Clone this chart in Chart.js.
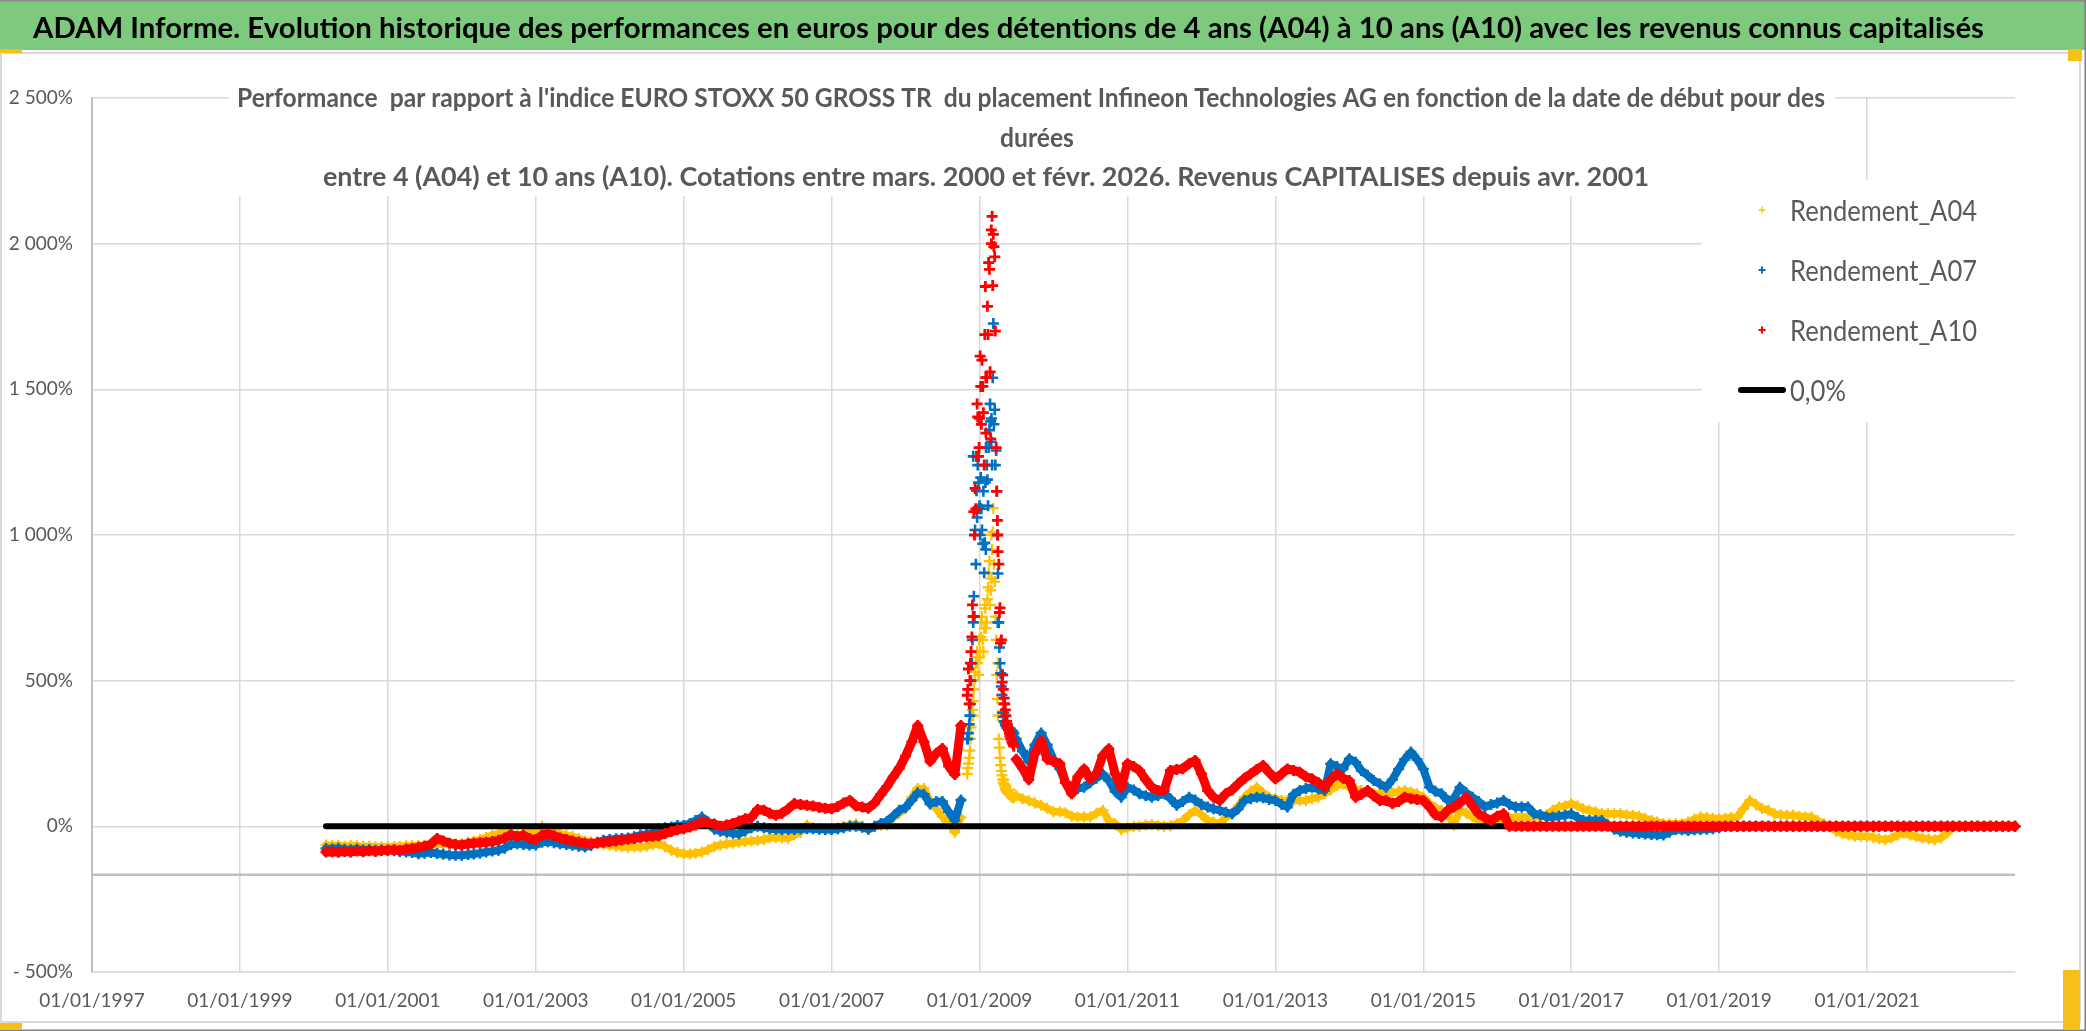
<!DOCTYPE html>
<html><head><meta charset="utf-8">
<script src="https://cdn.jsdelivr.net/npm/chart.js@4.4.1/dist/chart.umd.min.js"></script>
<style>html,body{margin:0;padding:0;background:#fff;overflow:hidden}canvas{display:block}</style>
</head><body>
<canvas id="c" width="2086" height="1031"></canvas>
<script>
// ---------------- DATA ----------------
const titleText = "ADAM Informe. Evolution historique des performances en euros pour des détentions de 4 ans (A04) à 10 ans (A10) avec les revenus connus capitalisés";
const subtitleLines = [
  "Performance  par rapport à l'indice EURO STOXX 50 GROSS TR  du placement Infineon Technologies AG en fonction de la date de début pour des",
  "durées",
  "entre 4 (A04) et 10 ans (A10). Cotations entre mars. 2000 et févr. 2026. Revenus CAPITALISES depuis avr. 2001"
];
const seriesLabels = ["Rendement_A04", "Rendement_A07", "Rendement_A10", "0,0%"];
const xTickYears = [1997, 1999, 2001, 2003, 2005, 2007, 2009, 2011, 2013, 2015, 2017, 2019, 2021];
const yTickValues = [-500, 0, 500, 1000, 1500, 2000, 2500];
const yTickLabels = ["- 500%", "0%", "500%", "1 000%", "1 500%", "2 000%", "2 500%"];

// monthly start dates: March 2000 .. January 2023
const firstMonth = [2000, 3], lastMonth = [2023, 1];

// Rendement_A04 (%), one value per month from 2000-03
const a04 = [
  -64,-66,-65,-68,-66,-67,-69,-68,-70,-70,
  -70,-69,-68,-67,-66,-66,-65,-64,-62,-61,-60,-60,
  -60,-55,-50,-45,-38,-30,-25,-8,-28,-30,-25,-20,
  -10,0,-10,-18,-25,-30,-35,-42,-50,-53,-58,-62,
  -65,-68,-70,-72,-71,-71,-68,-62,-60,-70,-82,-90,
  -94,-95,-92,-88,-80,-70,-64,-60,-58,-55,-52,-50,
  -49,-45,-40,-38,-40,-41,-30,-20,5,-5,-8,-11,
  -11,-5,0,5,8,0,-10,0,3,5,30,45,
  60,100,130,130,85,60,33,10,-20,30,180,380,
  580,700,850,560,160,125,105,95,88,80,72,62,
  50,50,47,35,32,32,32,45,55,20,9,-11,
  -5,0,0,5,6,3,0,2,9,20,40,55,
  40,20,15,9,30,43,70,100,120,134,115,100,
  95,89,89,89,89,89,95,100,112,125,140,146,
  134,128,123,118,112,112,112,115,120,123,118,112,
  100,78,65,55,40,5,55,45,32,20,9,15,
  20,20,28,32,32,32,32,32,40,55,66,70,
  78,70,60,55,50,43,43,43,43,40,38,35,
  28,20,15,9,9,9,9,15,25,32,30,28,
  26,28,30,32,60,89,75,61,55,43,40,38,
  38,35,32,32,20,9,0,-17,-25,-30,-34,-34,
  -34,-38,-42,-46,-40,-30,-23,-30,-35,-40,-43,-46,
  -40,-23,0,0,0,0,0,0,0,0,0,0,
  0
];
// Rendement_A07 (%)
const a07 = [
  -76,-78,-75,-79,-80,-78,-81,-80,-82,-81,
  -82,-84,-86,-88,-90,-94,-92,-90,-93,-96,-98,-99,
  -99,-97,-95,-92,-88,-85,-82,-75,-62,-60,-62,-64,
  -64,-55,-53,-56,-60,-62,-65,-68,-71,-66,-55,-48,
  -45,-43,-42,-40,-36,-30,-28,-22,-8,-5,-2,3,
  3,10,20,32,15,-10,-17,-20,-24,-26,-15,-5,
  0,-5,-8,-10,-12,-11,-11,-9,-8,-8,-10,-11,
  -11,-8,-5,0,0,-3,-10,0,10,17,35,55,
  65,90,115,110,77,85,85,50,20,90,300,700,
  1100,950,1400,700,390,335,300,258,223,280,320,280,
  230,197,150,134,130,134,150,165,180,157,120,100,
  134,125,112,105,100,105,112,95,72,85,100,90,
  75,66,60,55,48,43,60,89,95,100,98,92,
  89,75,66,110,123,130,134,128,123,215,205,197,
  232,220,192,175,157,145,134,160,197,230,255,230,
  197,134,120,112,89,95,134,115,100,85,66,75,
  80,89,75,66,66,66,43,40,32,32,35,38,
  43,30,20,20,20,20,5,-10,-17,-20,-23,-25,
  -26,-28,-29,-30,-20,-11,-12,-14,-12,-11,-10,-8,
  -5,0,0,0,0,0,0,0,0,0,0,0,
  0,0,0,0,0,0,0,0,0,0,0,0,
  0,0,0,0,0,0,0,0,0,0,0,0,
  0,0,0,0,0,0,0,0,0,0,0,0,
  0
];
// Rendement_A10 (%)
const a10 = [
  -88,-87,-89,-86,-88,-85,-87,-84,-86,-83,
  -82,-80,-83,-78,-76,-72,-68,-62,-42,-50,-58,-62,
  -64,-60,-58,-56,-55,-52,-48,-40,-28,-35,-30,-42,
  -45,-30,-26,-32,-40,-45,-50,-54,-58,-60,-57,-55,
  -52,-50,-47,-44,-42,-38,-36,-34,-32,-25,-18,-12,
  -8,-2,5,15,12,8,0,5,10,18,26,30,
  58,55,45,38,45,60,78,75,72,70,65,62,
  60,68,80,89,70,66,62,80,110,137,170,200,
  241,290,346,290,223,250,267,207,178,346,450,720,
  1400,1540,2000,1000,420,320,230,200,160,250,292,230,
  223,215,150,112,170,197,163,180,243,266,180,134,
  215,205,192,160,134,123,123,192,195,198,215,226,
  180,123,100,89,112,125,146,165,180,195,209,185,
  163,180,197,192,186,170,163,150,134,160,180,165,
  157,100,110,123,105,89,89,78,85,100,95,92,
  89,66,40,32,55,66,80,100,70,43,30,20,
  35,43,0,0,0,0,0,0,0,0,0,0,
  0,0,0,0,0,0,0,0,0,0,0,0,
  0,0,0,0,0,0,0,0,0,0,0,0,
  0,0,0,0,0,0,0,0,0,0,0,0,
  0,0,0,0,0,0,0,0,0,0,0,0,
  0,0,0,0,0,0,0,0,0,0,0,0,
  0,0,0,0,0,0,0,0,0,0,0,0,
  0
];

// denser readings around the 2008-2009 spike (two interleaved sets)
const peakDates = ['2008-11-04','2008-11-11','2008-11-17','2008-11-24','2008-12-01','2008-12-07','2008-12-14','2008-12-20','2008-12-27',
  '2009-01-04','2009-01-10','2009-01-17','2009-01-24','2009-01-30','2009-02-06','2009-02-12','2009-02-19','2009-02-25',
  '2009-03-04','2009-03-10','2009-03-17','2009-03-24','2009-03-30','2009-04-06','2009-04-12','2009-04-19','2009-04-25',
  '2009-05-02','2009-05-08','2009-05-15','2009-05-21','2009-05-28','2009-06-04','2009-06-10','2009-06-17'];
const a04Peak = [200,235,300,380,430,500,560,600,520,600,700,640,680,748,700,820,910,810,950,1092,840,640,437,300,235,190,160,145,130,120,115,110,105,100,100];
const a07Peak = [300,350,420,560,1270,720,900,1060,1180,1000,1090,970,870,1180,1240,1100,1360,1390,1240,1726,1430,1290,1000,700,560,480,390,360,350,340,335,330,330,325,320];
const a10Peak = [470,420,560,650,720,1000,1090,1450,1270,1614,1380,1510,1240,1853,1540,1688,1912,1330,2094,2032,1955,1300,1050,900,750,640,520,440,400,360,340,320,300,290,280];

const peakDatesB = ['2008-11-07','2008-11-14','2008-11-20','2008-11-27','2008-12-04','2008-12-10','2008-12-17','2008-12-23','2008-12-30',
  '2009-01-07','2009-01-13','2009-01-20','2009-01-27','2009-02-02','2009-02-09','2009-02-15','2009-02-22','2009-02-28',
  '2009-03-07','2009-03-13','2009-03-20','2009-03-27','2009-04-02','2009-04-09','2009-04-15','2009-04-22','2009-04-28',
  '2009-05-05','2009-05-11','2009-05-18','2009-05-24','2009-05-31','2009-06-07','2009-06-13','2009-06-19'];
const a04PeakB = [215,260,340,400,470,530,580,560,640,650,720,600,760,680,780,870,760,1000,1010,900,720,520,380,270,210,175,150,140,125,118,112,108,102,100,98];
const a07PeakB = [320,380,500,640,790,1017,1152,1240,1091,1197,1017,1150,973,1300,1190,1300,1450,1320,1540,1380,1240,1150,868,614,525,451,376,360,345,340,335,332,330,325,320];
const a10PeakB = [540,500,600,760,1080,1160,1270,1405,1300,1510,1600,1420,1688,1350,1785,1935,1560,2047,1856,1990,1700,1150,943,734,630,495,470,420,380,350,330,310,300,285,275];

// 0,0% reference line
const zeroDates = ['2000-03-01', '2023-01-01'];
const zeroValues = [0, 0];

const axisCrossValue = -166;   // where the horizontal axis line crosses
const xMin = 1997, xMax = 2023, yMin = -500, yMax = 2500;
const spikeWindow = ['2008-11-01', '2009-06-20']; // scattered readings, not joined

// ---------------- HELPERS ----------------
function decYear(s) {
  const [y, m, d] = s.split('-').map(Number);
  const t = Date.UTC(y, m - 1, d), t0 = Date.UTC(y, 0, 1), t1 = Date.UTC(y + 1, 0, 1);
  return y + (t - t0) / (t1 - t0);
}
const monthDates = [];
for (let y = firstMonth[0], m = firstMonth[1]; y < lastMonth[0] || (y === lastMonth[0] && m <= lastMonth[1]);) {
  monthDates.push(y + '-' + String(m).padStart(2, '0') + '-01');
  m++; if (m > 12) { m = 1; y++; }
}
function pts(dates, vals) { return dates.map((d, i) => ({ x: decYear(d), y: vals[i] })); }
function series(vals, peak, peakB) {
  return pts(monthDates, vals).concat(pts(peakDates, peak), pts(peakDatesB, peakB)).sort((a, b) => a.x - b.x);
}
const sw0 = decYear(spikeWindow[0]), sw1 = decYear(spikeWindow[1]);
const inSpike = x => x >= sw0 && x <= sw1;

const TFONT = 'Lato, "Noto Sans", "DejaVu Sans", sans-serif';
const GREY = '#595959';
const COLORS = ['#FFC000', '#0070C0', '#FF0000', '#000000'];

function scaleFor(ctx, text, font, target) {
  ctx.font = font;
  return target / ctx.measureText(text).width;
}
function drawScaled(ctx, text, x, y, font, sx, align) {
  ctx.save();
  ctx.font = font; ctx.textAlign = align;
  ctx.translate(x, y); ctx.scale(sx, 1);
  ctx.fillText(text, 0, 0);
  ctx.restore();
}

// ---------------- DECOR PLUGIN ----------------
const decor = {
  id: 'decor',
  beforeDraw(chart) {
    const ctx = chart.ctx, W = chart.width, H = chart.height;
    ctx.save();
    ctx.fillStyle = '#fff'; ctx.fillRect(0, 0, W, H);
    ctx.fillStyle = '#7DC97D'; ctx.fillRect(0, 0, W, 50);
    ctx.strokeStyle = '#8a8a8a'; ctx.lineWidth = 1.5;
    ctx.beginPath(); ctx.moveTo(0, 0.75); ctx.lineTo(W, 0.75); ctx.stroke();
    ctx.strokeStyle = '#D9D9D9'; ctx.lineWidth = 2;
    ctx.strokeRect(1, 53, 2079, 969);
    ctx.strokeStyle = '#7f7f7f'; ctx.lineWidth = 1.5;
    ctx.beginPath(); ctx.moveTo(0, H - 0.75); ctx.lineTo(W, H - 0.75); ctx.moveTo(W - 0.75, 0); ctx.lineTo(W - 0.75, H); ctx.stroke();
    ctx.fillStyle = '#F5C018';
    ctx.fillRect(0, 49, 22, 4); ctx.fillRect(0, 1023, 22, 7);
    ctx.fillRect(2068, 49, 14, 12); ctx.fillRect(2063, 970, 17, 60);
    const f = 'bold 29px ' + TFONT;
    ctx.fillStyle = '#000'; ctx.textBaseline = 'alphabetic';
    drawScaled(ctx, titleText, 33, 38, f, scaleFor(ctx, titleText, f, 1951), 'left');
    ctx.restore();
  },
  beforeDatasetsDraw(chart) {
    const ctx = chart.ctx, a = chart.chartArea;
    const y = chart.scales.y.getPixelForValue(axisCrossValue);
    ctx.save();
    ctx.strokeStyle = '#BFBFBF'; ctx.lineWidth = 2.5;
    ctx.beginPath(); ctx.moveTo(a.left, y); ctx.lineTo(a.right, y); ctx.stroke();
    ctx.restore();
  },
  afterDraw(chart) {
    const ctx = chart.ctx;
    ctx.save();
    ctx.fillStyle = '#fff'; ctx.fillRect(229, 78, 1606, 118);
    const f = 'bold 27.5px ' + TFONT;
    const sx = scaleFor(ctx, subtitleLines[0], f, 1588);
    const sx3 = scaleFor(ctx, subtitleLines[2], f, 1326);
    ctx.fillStyle = GREY; ctx.textBaseline = 'alphabetic';
    drawScaled(ctx, subtitleLines[0], 237, 107, f, sx, 'left');
    drawScaled(ctx, subtitleLines[1], 1037, 147, f, sx, 'center');
    drawScaled(ctx, subtitleLines[2], 323, 186, f, sx3, 'left');
    ctx.fillStyle = '#fff'; ctx.fillRect(1702, 180, 313, 242);
    const lf = '29px ' + TFONT;
    const lsx = scaleFor(ctx, seriesLabels[0], lf, 187);
    const rows = [210, 270, 330, 390];
    [0, 1, 2, 3].forEach((di, i) => {
      const ds = chart.data.datasets[di];
      const cy = rows[i];
      if (di === 3) {
        ctx.strokeStyle = ds.borderColor; ctx.lineWidth = 6; ctx.lineCap = 'round';
        ctx.beginPath(); ctx.moveTo(1741, cy); ctx.lineTo(1783, cy); ctx.stroke();
      } else {
        ctx.strokeStyle = ds.pointBorderColor; ctx.lineWidth = di === 0 ? 1.3 : 2; ctx.lineCap = 'butt';
        ctx.beginPath(); ctx.moveTo(1762 - 3.5, cy); ctx.lineTo(1762 + 3.5, cy);
        ctx.moveTo(1762, cy - 3.5); ctx.lineTo(1762, cy + 3.5); ctx.stroke();
      }
      ctx.fillStyle = GREY; ctx.textBaseline = 'alphabetic';
      drawScaled(ctx, ds.label, 1790, cy + 10.5, lf, lsx, 'left');
    });
    ctx.restore();
  }
};

// ---------------- CHART ----------------
const seriesDs = (label, color, data, order, bw, lw) => ({
  type: 'line', label, data, order,
  showLine: true, borderWidth: lw, borderColor: color, backgroundColor: color,
  borderJoinStyle: 'round', borderCapStyle: 'round',
  pointStyle: 'cross', pointRadius: 5.5, pointHoverRadius: 5.5,
  pointBorderWidth: bw, pointBorderColor: color, pointBackgroundColor: color,
  tension: 0, clip: false,
  segment: {
    borderColor: c => (inSpike(data[c.p0DataIndex].x) || inSpike(data[c.p1DataIndex].x)) ? 'rgba(0,0,0,0)' : undefined
  }
});

const dA04 = series(a04, a04Peak, a04PeakB), dA07 = series(a07, a07Peak, a07PeakB), dA10 = series(a10, a10Peak, a10PeakB);

new Chart(document.getElementById('c'), {
  type: 'line',
  data: {
    datasets: [
      seriesDs(seriesLabels[0], COLORS[0], dA04, 3, 2.2, 7.5),
      seriesDs(seriesLabels[1], COLORS[1], dA07, 2, 2.6, 8),
      seriesDs(seriesLabels[2], COLORS[2], dA10, 0, 2.8, 9),
      { type: 'line', label: seriesLabels[3], data: pts(zeroDates, zeroValues), order: 1,
        borderColor: COLORS[3], backgroundColor: COLORS[3], borderWidth: 6, borderCapStyle: 'round',
        pointRadius: 0, clip: false }
    ]
  },
  options: {
    responsive: false, devicePixelRatio: 1, animation: false,
    events: [],
    layout: { padding: { top: 98, right: 71, left: 0, bottom: 0 } },
    plugins: { legend: { display: false }, tooltip: { enabled: false }, title: { display: false } },
    scales: {
      x: {
        type: 'linear', min: xMin, max: xMax,
        afterBuildTicks: s => { s.ticks = xTickYears.map(v => ({ value: v })); },
        afterFit: s => { s.height = 59; },
        grid: { color: '#D9D9D9', lineWidth: 1.5, drawTicks: false },
        border: { display: true, color: '#D9D9D9', width: 1.5 },
        ticks: { padding: 17, color: GREY, font: { family: TFONT, size: 19 },
          maxRotation: 0, autoSkip: false, callback: v => '01/01/' + v }
      },
      y: {
        type: 'linear', min: yMin, max: yMax,
        afterBuildTicks: s => { s.ticks = yTickValues.map(v => ({ value: v })); },
        afterFit: s => { s.width = 92; },
        grid: { color: '#D9D9D9', lineWidth: 1.5, drawTicks: false },
        border: { display: true, color: '#BFBFBF', width: 2 },
        ticks: { padding: 19, color: GREY, font: { family: TFONT, size: 19 },
          callback: v => yTickLabels[yTickValues.indexOf(v)] }
      }
    }
  },
  plugins: [decor]
});
</script></body></html>
